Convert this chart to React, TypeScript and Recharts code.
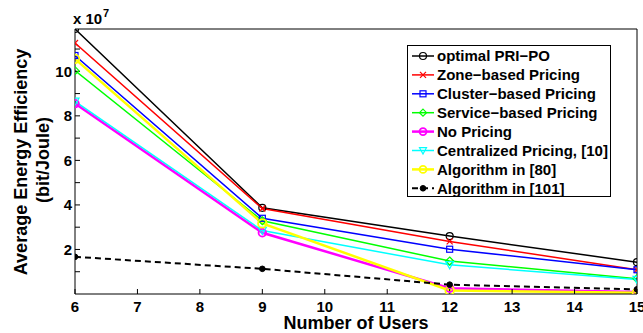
import React from 'react';
import { LineChart, Line, XAxis, YAxis, Legend } from 'recharts';

// Number of users on the x axis
const users = [6, 9, 12, 15];

// Average energy efficiency, in units of 10^7 bit/Joule
const optimalPriPo = [11.9, 3.87, 2.6, 1.43];
const zoneBased = [11.27, 3.84, 2.36, 1.09];
const clusterBased = [10.71, 3.4, 2.01, 1.09];
const serviceBased = [10.03, 3.29, 1.48, 0.69];
const noPricing = [8.55, 2.75, 0.26, 0.09];
const centralized = [8.65, 2.85, 1.31, 0.65];
const algorithm80 = [10.56, 3.17, 0.16, 0.06];
const algorithm101 = [1.67, 1.13, 0.42, 0.21];

const xTicks = [6, 7, 8, 9, 10, 11, 12, 13, 14, 15];
const yTicks = [1, 2, 3, 4, 5, 6, 7, 8, 9, 10, 11];

const FONT = '"Liberation Sans", Arial, Helvetica, sans-serif';

type MarkerKind = 'circle' | 'x' | 'square' | 'diamond' | 'triangleDown' | 'dot';

interface SeriesDef {
  key: string;
  name: string;
  values: number[];
  color: string;
  width: number;
  marker: MarkerKind;
  markerSize: number;
  dash?: string;
}

const series: SeriesDef[] = [
  { key: 'optimal', name: 'optimal PRI\u2212PO', values: optimalPriPo, color: '#000000', width: 1.5, marker: 'circle', markerSize: 3.5 },
  { key: 'zone', name: 'Zone\u2212based Pricing', values: zoneBased, color: '#ff0000', width: 1.5, marker: 'x', markerSize: 3 },
  { key: 'cluster', name: 'Cluster\u2212based Pricing', values: clusterBased, color: '#0000ff', width: 1.5, marker: 'square', markerSize: 3 },
  { key: 'service', name: 'Service\u2212based Pricing', values: serviceBased, color: '#00ff00', width: 1.5, marker: 'diamond', markerSize: 4 },
  { key: 'none', name: 'No Pricing', values: noPricing, color: '#ff00ff', width: 2.5, marker: 'circle', markerSize: 3.8 },
  { key: 'central', name: 'Centralized Pricing, [10]', values: centralized, color: '#00ffff', width: 1.5, marker: 'triangleDown', markerSize: 4 },
  { key: 'alg80', name: 'Algorithm in [80]', values: algorithm80, color: '#ffff00', width: 2.5, marker: 'circle', markerSize: 4.3 },
  { key: 'alg101', name: 'Algorithm in [101]', values: algorithm101, color: '#000000', width: 2, marker: 'dot', markerSize: 2.8, dash: '6 4' },
];

const data = users.map((u, i) => {
  const row: Record<string, number> = { users: u };
  series.forEach((s) => {
    row[s.key] = s.values[i];
  });
  return row;
});

function Marker({ kind, cx, cy, size, color, sw }: { kind: MarkerKind; cx: number; cy: number; size: number; color: string; sw: number }) {
  const r = size;
  switch (kind) {
    case 'circle':
      return <circle cx={cx} cy={cy} r={r} fill="none" stroke={color} strokeWidth={sw} />;
    case 'x':
      return (
        <g stroke={color} strokeWidth={sw}>
          <line x1={cx - r} y1={cy - r} x2={cx + r} y2={cy + r} />
          <line x1={cx - r} y1={cy + r} x2={cx + r} y2={cy - r} />
        </g>
      );
    case 'square':
      return <rect x={cx - r} y={cy - r} width={2 * r} height={2 * r} fill="none" stroke={color} strokeWidth={sw} />;
    case 'diamond':
      return (
        <polygon
          points={`${cx},${cy - r} ${cx + r},${cy} ${cx},${cy + r} ${cx - r},${cy}`}
          fill="none"
          stroke={color}
          strokeWidth={sw}
        />
      );
    case 'triangleDown':
      return (
        <polygon
          points={`${cx - r},${cy - r * 0.8} ${cx + r},${cy - r * 0.8} ${cx},${cy + r}`}
          fill="none"
          stroke={color}
          strokeWidth={sw}
        />
      );
    case 'dot':
    default:
      return <circle cx={cx} cy={cy} r={r} fill={color} stroke={color} strokeWidth={1} />;
  }
}

const makeDot = (s: SeriesDef) => (props: any) => {
  const { cx, cy, index } = props;
  if (cx == null || cy == null) return <g key={`${s.key}-${index}`} />;
  return (
    <g key={`${s.key}-${index}`}>
      <Marker kind={s.marker} cx={cx} cy={cy} size={s.markerSize} color={s.color} sw={s.width > 2 ? 1.8 : 1.2} />
    </g>
  );
};

function LegendBox() {
  const w = 204;
  const rowH = 18.9;
  const h = 152;
  return (
    <svg width={w} height={h} style={{ display: 'block', overflow: 'visible' }}>
      <rect x={0.5} y={0.5} width={w - 1} height={h - 1} fill="#ffffff" stroke="#000000" strokeWidth={1} />
      {series.map((s, i) => {
        const cy = 11 + i * rowH;
        return (
          <g key={s.key}>
            <line x1={5} y1={cy} x2={27} y2={cy} stroke={s.color} strokeWidth={s.width} strokeDasharray={s.dash} />
            <Marker kind={s.marker} cx={16} cy={cy} size={Math.min(s.markerSize, 3.5)} color={s.color} sw={s.width > 2 ? 1.8 : 1.2} />
            <text x={30} y={cy + 5.2} fontFamily={FONT} fontWeight="bold" fontSize={15} fill="#000">
              {s.name}
            </text>
          </g>
        );
      })}
    </svg>
  );
}

const tickStyle = { fill: '#000', fontSize: 15, fontWeight: 'bold' as const, fontFamily: FONT };

export default function App() {
  return (
    <div style={{ position: 'absolute', left: 0, top: 0, width: 643, height: 333, background: '#fff' }}>
      <LineChart width={643} height={333} data={data} margin={{ top: 28, right: 1, bottom: 0, left: 0 }}>
        <XAxis
          dataKey="users"
          type="number"
          domain={[6, 15]}
          ticks={xTicks}
          allowDataOverflow
          height={39}
          stroke="#000"
          tickSize={-5}
          tickMargin={12}
          tick={tickStyle}
          interval={0}
        />
        <XAxis
          xAxisId="top"
          orientation="top"
          type="number"
          domain={[6, 15]}
          ticks={xTicks}
          allowDataOverflow
          height={1}
          stroke="#000"
          tickSize={-5}
          tick={false}
          interval={0}
        />
        <YAxis
          type="number"
          domain={[0, 11.9]}
          ticks={yTicks}
          allowDataOverflow
          width={75}
          stroke="#000"
          tickSize={-5}
          tickMargin={8}
          tick={tickStyle}
          interval={0}
          tickFormatter={(v: number) => (v % 2 === 0 ? String(v) : '')}
        />
        <YAxis
          yAxisId="right"
          orientation="right"
          type="number"
          domain={[0, 11.9]}
          ticks={yTicks}
          allowDataOverflow
          width={5}
          stroke="#000"
          tickSize={-5}
          tick={false}
          interval={0}
        />
        {series.map((s) => (
          <Line
            key={s.key}
            dataKey={s.key}
            name={s.name}
            type="linear"
            stroke={s.color}
            strokeWidth={s.width}
            strokeDasharray={s.dash}
            dot={makeDot(s)}
            activeDot={false}
            isAnimationActive={false}
          />
        ))}
        <Legend
          layout="vertical"
          align="center"
          verticalAlign="middle"
          content={() => <LegendBox />}
          wrapperStyle={{ position: 'absolute', left: 407, top: 45, width: 204, height: 152 }}
        />
      </LineChart>
      <svg
        width={643}
        height={333}
        style={{ position: 'absolute', left: 0, top: 0, pointerEvents: 'none' }}
      >
        <text x={73} y={24} fontFamily={FONT} fontWeight="bold" fontSize={15} fill="#000">
          x 10
        </text>
        <text x={103} y={17} fontFamily={FONT} fontWeight="bold" fontSize={11} fill="#000">
          7
        </text>
        <text
          transform="translate(27,162) rotate(-90)"
          textAnchor="middle"
          fontFamily={FONT}
          fontWeight="bold"
          fontSize={18}
          fill="#000"
        >
          Average Energy Efficiency
        </text>
        <text
          transform="translate(49,160) rotate(-90)"
          textAnchor="middle"
          fontFamily={FONT}
          fontWeight="bold"
          fontSize={18}
          fill="#000"
        >
          (bit/Joule)
        </text>
        <text x={356} y={329} textAnchor="middle" fontFamily={FONT} fontWeight="bold" fontSize={18} fill="#000">
          Number of Users
        </text>
      </svg>
    </div>
  );
}
